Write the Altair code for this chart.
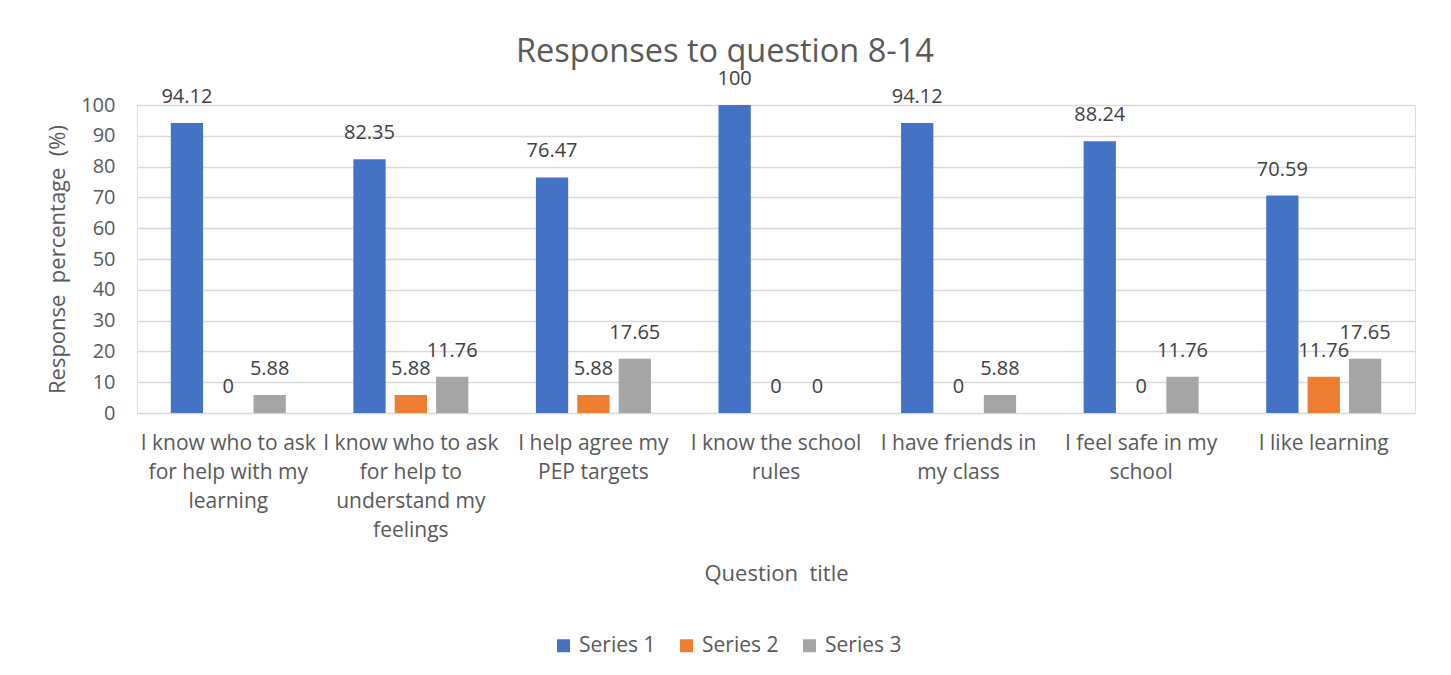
import altair as alt
import pandas as pd

QUESTIONS = [
    "I know who to ask for help with my learning",
    "I know who to ask for help to understand my feelings",
    "I help agree my PEP targets",
    "I know the school rules",
    "I have friends in my class",
    "I feel safe in my school",
    "I like learning",
]
LABEL_LINES = [
    ["I know who to ask", "for help with my", "learning"],
    ["I know who to ask", "for help to", "understand my", "feelings"],
    ["I help agree my", "PEP targets"],
    ["I know the school", "rules"],
    ["I have friends in", "my class"],
    ["I feel safe in my", "school"],
    ["I like learning"],
]
SERIES = ["Series 1", "Series 2", "Series 3"]
SERIES_1 = [94.12, 82.35, 76.47, 100, 94.12, 88.24, 70.59]
SERIES_2 = [0, 5.88, 5.88, 0, 0, 0, 11.76]
SERIES_3 = [5.88, 11.76, 17.65, 0, 5.88, 11.76, 17.65]
COLORS = ["#4472C4", "#ED7D31", "#A5A5A5"]
Y_TICKS = [0, 10, 20, 30, 40, 50, 60, 70, 80, 90, 100]
TITLE = "Responses to question 8-14"
NB = "\u00a0"

FONT = "Open Sans"
TXT = "#595959"
GRID = "#d9d9d9"

rows = []
for s_name, vals in zip(SERIES, [SERIES_1, SERIES_2, SERIES_3]):
    for q, v in zip(QUESTIONS, vals):
        rows.append({"question": q, "series": s_name, "value": v})
df = pd.DataFrame(rows)

# multi-line category labels
expr = "datum.value"
for q, lines in reversed(list(zip(QUESTIONS, LABEL_LINES))):
    arr = "[" + ",".join("'" + l + "'" for l in lines) + "]"
    expr = f"datum.value == '{q}' ? {arr} : ({expr})"

x_enc = alt.X(
    "question:N",
    sort=QUESTIONS,
    scale=alt.Scale(paddingInner=0.37, paddingOuter=0.185),
    axis=alt.Axis(
        title="Question" + NB + NB + "title",
        labelExpr=expr,
        labelAngle=0,
        labelFont=FONT,
        labelFontSize=21,
        labelColor=TXT,
        labelLineHeight=29,
        labelPadding=19,
        labelBaseline="top",
        titleFont=FONT,
        titleFontSize=22,
        titleFontWeight="normal",
        titleColor=TXT,
        titlePadding=23,
        domain=False,
        ticks=False,
        grid=False,
    ),
)
y_enc = alt.Y(
    "value:Q",
    scale=alt.Scale(domain=[0, 100], nice=False),
    axis=alt.Axis(
        title="Response" + NB + NB + "percentage" + NB + NB + "(%)",
        values=Y_TICKS,
        labelFont=FONT,
        labelFontSize=20,
        labelColor=TXT,
        labelPadding=22,
        labelOverlap=False,
        titleFont=FONT,
        titleFontSize=22,
        titleFontWeight="normal",
        titleColor=TXT,
        titlePadding=11,
        domain=False,
        ticks=False,
        grid=True,
        gridColor=GRID,
        gridWidth=1.3,
    ),
)

base = alt.Chart(df)

bars = base.mark_bar().encode(
    x=x_enc,
    xOffset=alt.XOffset("series:N", sort=SERIES, scale=alt.Scale(paddingInner=0.22)),
    y=y_enc,
    color=alt.Color(
        "series:N",
        sort=SERIES,
        scale=alt.Scale(domain=SERIES, range=COLORS),
        legend=alt.Legend(
            title=None,
            orient="none",
            direction="horizontal",
            legendX=416,
            legendY=530,
            symbolType="square",
            symbolSize=169,
            symbolStrokeWidth=0,
            labelFont=FONT,
            labelFontSize=21,
            labelColor=TXT,
            labelOffset=5,
            columnPadding=20,
        ),
    ),
)

labels = base.mark_text(
    font=FONT, fontSize=20, color="#404040", baseline="middle", dy=-26
).encode(
    x=x_enc,
    xOffset=alt.XOffset("series:N", sort=SERIES),
    y=y_enc,
    text=alt.Text("value:Q"),
)

one = pd.DataFrame({"t": [TITLE]})
border_top = alt.Chart(one).mark_rule(stroke=GRID, strokeWidth=1.8).encode(
    x=alt.value(-131), x2=alt.value(1309), y=alt.value(-98)
)
border_left = alt.Chart(one).mark_rule(stroke=GRID, strokeWidth=1.8).encode(
    x=alt.value(-131), y=alt.value(-98), y2=alt.value(600)
)
title = alt.Chart(one).mark_text(
    font=FONT, fontSize=32.5, color=TXT, baseline="alphabetic", align="center"
).encode(x=alt.value(588), y=alt.value(-43), text="t:N")

chart = (
    alt.layer(border_top, border_left, bars, labels, title)
    .properties(
        width=1278,
        height=308,
        autosize=alt.AutoSizeParams(type="none"),
        padding={"left": 129, "top": 97, "right": 28, "bottom": 262},
    )
    .configure_view(strokeWidth=0)
    .configure_axis(domain=False)
    .configure(background="white")
)

chart.save("out.html", embed_options={"renderer": "svg", "actions": False})
